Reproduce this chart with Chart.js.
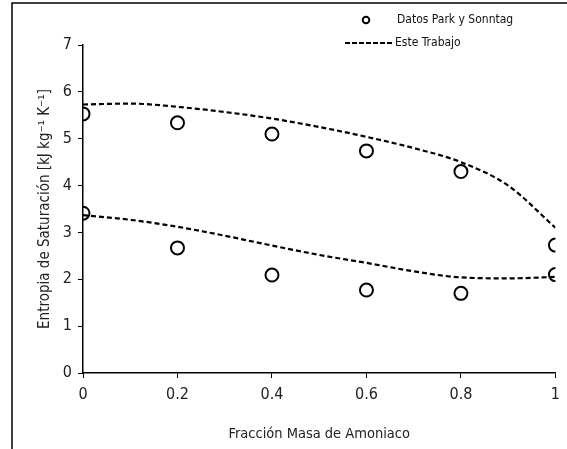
<!DOCTYPE html>
<html>
<head>
<meta charset="utf-8">
<script src="https://cdn.jsdelivr.net/npm/chart.js@4.4.1/dist/chart.umd.min.js"></script>
<style>
  body { margin: 0; background: #fff; }
  canvas { display: block; }
</style>
</head>
<body>
<canvas id="chart" width="567" height="449"></canvas>
<script>
// ### datos
const fraccion = [0, 0.2, 0.4, 0.6, 0.8, 1]
const parkSuperior = [5.53, 5.34, 5.10, 4.74, 4.30, 2.73]
const parkInferior = [3.41, 2.67, 2.09, 1.77, 1.70, 2.10]

const fraccionCurva = [0, 0.1, 0.2, 0.3, 0.4, 0.5, 0.6, 0.7, 0.8, 0.9, 1]
const trabajoSuperior = [5.73, 5.75, 5.68, 5.57, 5.43, 5.25, 5.04, 4.80, 4.50, 4.00, 3.10]
const trabajoInferior = [3.37, 3.27, 3.12, 2.93, 2.72, 2.52, 2.35, 2.17, 2.04, 2.02, 2.05]

const etiquetas = ['Datos Park y Sonntag', 'Este Trabajo']

const FONT = '"Liberation Sans Narrow", "Arial Narrow", "DejaVu Sans Condensed", sans-serif'

function pares(xs, ys) {
    return xs.map((x, i) => ({ x: x, y: ys[i] }))
}

const puntos = {
    type: 'scatter',
    pointStyle: 'circle',
    pointRadius: 6.5,
    pointBorderWidth: 2,
    borderColor: '#000',
    backgroundColor: 'rgba(0,0,0,0)',
    showLine: false
}

const curva = {
    type: 'line',
    showLine: true,
    pointRadius: 0,
    borderColor: '#000',
    borderWidth: 2.2,
    borderDash: [5, 3],
    cubicInterpolationMode: 'monotone',
    fill: false
}

// ### marco y leyenda
const marco = {
    id: 'marco',
    beforeDraw(chart) {
        const ctx = chart.ctx
        ctx.save()
        ctx.fillStyle = '#fff'
        ctx.fillRect(0, 0, chart.width, chart.height)
        ctx.strokeStyle = '#000'
        ctx.lineWidth = 1.5
        ctx.beginPath()
        ctx.moveTo(12, chart.height)
        ctx.lineTo(12, 3)
        ctx.lineTo(chart.width, 3)
        ctx.stroke()
        ctx.restore()
    },
    afterDraw(chart) {
        const ctx = chart.ctx
        ctx.save()
        ctx.font = '12px ' + FONT
        ctx.fillStyle = '#111'
        ctx.textBaseline = 'middle'
        // circulo
        ctx.lineWidth = 2
        ctx.beginPath()
        ctx.arc(366, 20, 3.3, 0, Math.PI * 2)
        ctx.stroke()
        ctx.fillText(etiquetas[0], 397, 20)
        // linea discontinua
        ctx.setLineDash([5, 2])
        ctx.lineWidth = 2
        ctx.beginPath()
        ctx.moveTo(345, 43)
        ctx.lineTo(393, 43)
        ctx.stroke()
        ctx.setLineDash([])
        ctx.fillText(etiquetas[1], 395, 43)
        ctx.restore()
    }
}

const config = {
    type: 'scatter',
    data: {
        datasets: [
            Object.assign({ label: etiquetas[0], data: pares(fraccion, parkSuperior) }, puntos),
            Object.assign({ label: etiquetas[0], data: pares(fraccion, parkInferior) }, puntos),
            Object.assign({ label: etiquetas[1], data: pares(fraccionCurva, trabajoSuperior) }, curva),
            Object.assign({ label: etiquetas[1], data: pares(fraccionCurva, trabajoInferior) }, curva)
        ]
    },
    options: {
        responsive: false,
        animation: false,
        layout: { padding: { left: 14, top: 45, right: 8, bottom: 0 } },
        plugins: {
            legend: { display: false },
            tooltip: { enabled: false }
        },
        scales: {
            x: {
                type: 'linear',
                min: 0,
                max: 1,
                afterFit: (s) => { s.height = 76 },
                grid: { drawOnChartArea: false, drawTicks: true, tickLength: 5, color: '#000', tickWidth: 1 },
                border: { color: '#000', width: 1.5 },
                ticks: {
                    stepSize: 0.2,
                    padding: 7,
                    color: '#222',
                    font: { family: FONT, size: 16 },
                    callback: (v) => String(Math.round(v * 10) / 10)
                },
                title: {
                    display: true,
                    text: 'Fracción Masa de Amoniaco',
                    color: '#222',
                    font: { family: FONT, size: 14.5 },
                    padding: { top: 0, bottom: 6 }
                }
            },
            y: {
                min: 0,
                max: 7,
                afterFit: (s) => { s.width = 69 },
                grid: { drawOnChartArea: false, drawTicks: true, tickLength: 5, color: '#000', tickWidth: 1 },
                border: { color: '#000', width: 1.5 },
                ticks: {
                    stepSize: 1,
                    padding: 6,
                    color: '#222',
                    font: { family: FONT, size: 16 }
                },
                title: {
                    display: true,
                    text: 'Entropia de Saturación [kJ kg⁻¹ K⁻¹]',
                    color: '#222',
                    font: { family: FONT, size: 15 },
                    padding: { top: 22, bottom: 0 }
                }
            }
        }
    },
    plugins: [marco]
}

new Chart(document.getElementById('chart'), config)
</script>
</body>
</html>
